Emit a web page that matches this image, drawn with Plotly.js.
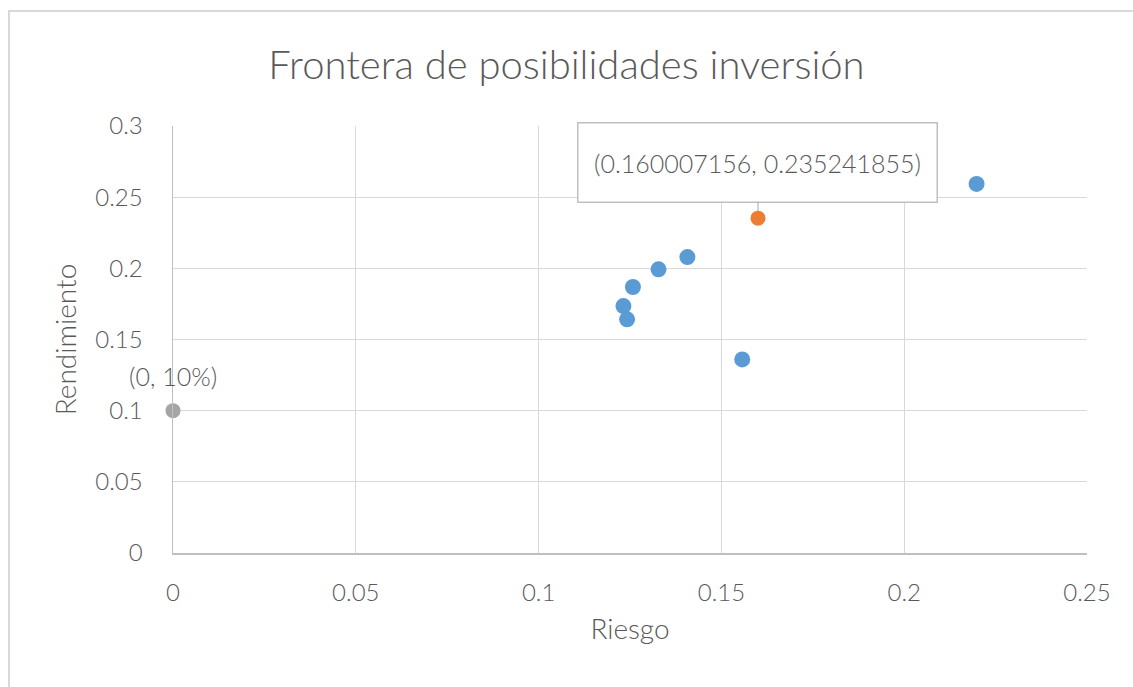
<!DOCTYPE html>
<html>
<head>
<meta charset="utf-8">
<script src="https://cdn.plot.ly/plotly-3.0.1.min.js"></script>
<style>
html,body{margin:0;padding:0;background:#fff;}
#wrap{position:relative;width:1133px;height:687px;overflow:hidden;}
#chart{position:absolute;left:0;top:0;width:1133px;height:687px;}
#frame{position:absolute;left:8px;top:10px;width:1200px;height:800px;border-top:2px solid #d9d9d9;border-left:2px solid #d9d9d9;pointer-events:none;}
</style>
</head>
<body>
<div id="wrap"><div id="chart"></div><div id="frame"></div></div>
<script>
// Portfolios (blue)
const riesgo = [0.2198, 0.1407, 0.1328, 0.1258, 0.1232, 0.1242, 0.1557];
const rendimiento = [0.2593, 0.2079, 0.1993, 0.1869, 0.1735, 0.1642, 0.1360];
// Optimal portfolio (orange)
const optX = [0.160007156];
const optY = [0.235241855];
const optLabel = "(0.160007156, 0.235241855)";
// Risk-free asset (gray)
const rfX = [0];
const rfY = [0.1];
const rfLabel = "(0, 10%)";
const xTicks = [0, 0.05, 0.1, 0.15, 0.2, 0.25];
const yTicks = [0, 0.05, 0.1, 0.15, 0.2, 0.25, 0.3];

const fontFam = "Lato, 'Open Sans', sans-serif";
const txt = '#595959';
const traces = [
  {x: riesgo, y: rendimiento, type: 'scatter', mode: 'markers',
   marker: {color: '#5b9bd5', size: 16}, cliponaxis: false},
  {x: optX, y: optY, type: 'scatter', mode: 'markers',
   marker: {color: '#ed7d31', size: 15}, cliponaxis: false},
  {x: rfX, y: rfY, type: 'scatter', mode: 'markers',
   marker: {color: '#a5a5a5', size: 15}, cliponaxis: false}
];
const layout = {
  width: 1133, height: 687,
  margin: {l: 173, r: 46, t: 125.5, b: 133.7},
  paper_bgcolor: 'rgba(0,0,0,0)', plot_bgcolor: '#fff',
  showlegend: false,
  font: {family: fontFam, color: txt},
  title: {text: 'Frontera de posibilidades inversión', x: 0.5, xanchor: 'center',
          y: 0.905, yanchor: 'middle', font: {size: 40, color: txt, family: fontFam, weight: 300}},
  xaxis: {range: [0, 0.25], tickvals: xTicks, ticktext: xTicks.map(String),
          showgrid: true, gridcolor: '#d9d9d9', gridwidth: 1.3,
          zeroline: false, showline: true, linecolor: '#bfbfbf', linewidth: 1.5,
          ticks: 'outside', ticklen: 18, tickcolor: 'rgba(0,0,0,0)',
          tickfont: {size: 24, color: txt, weight: 300},
          title: {text: 'Riesgo', standoff: 14, font: {size: 28, color: txt, weight: 300}}},
  yaxis: {range: [0, 0.3], tickvals: yTicks, ticktext: yTicks.map(String),
          showgrid: true, gridcolor: '#d9d9d9', gridwidth: 1.3,
          zeroline: false, showline: true, linecolor: '#bfbfbf', linewidth: 1.5,
          ticks: 'outside', ticklen: 24, tickcolor: 'rgba(0,0,0,0)',
          tickfont: {size: 24, color: txt, weight: 300},
          title: {text: 'Rendimiento', standoff: 10, font: {size: 28, color: txt, weight: 300}}},
  annotations: [
    {x: optX[0], y: optY[0], xref: 'x', yref: 'y', text: optLabel,
     showarrow: true, arrowhead: 0, arrowwidth: 1, arrowcolor: '#a6a6a6',
     ax: 0, ay: -56, standoff: 7, width: 350, height: 70, borderpad: 4,
     bordercolor: '#bfbfbf', borderwidth: 1.5, bgcolor: '#fff',
     font: {size: 25, color: txt, weight: 300}},
    {x: rfX[0], y: rfY[0], xref: 'x', yref: 'y', text: rfLabel,
     showarrow: false, yshift: 35, font: {size: 25, color: txt, weight: 300}}
  ]
};
Plotly.newPlot('chart', traces, layout, {displayModeBar: false, staticPlot: true});
</script>
</body>
</html>
